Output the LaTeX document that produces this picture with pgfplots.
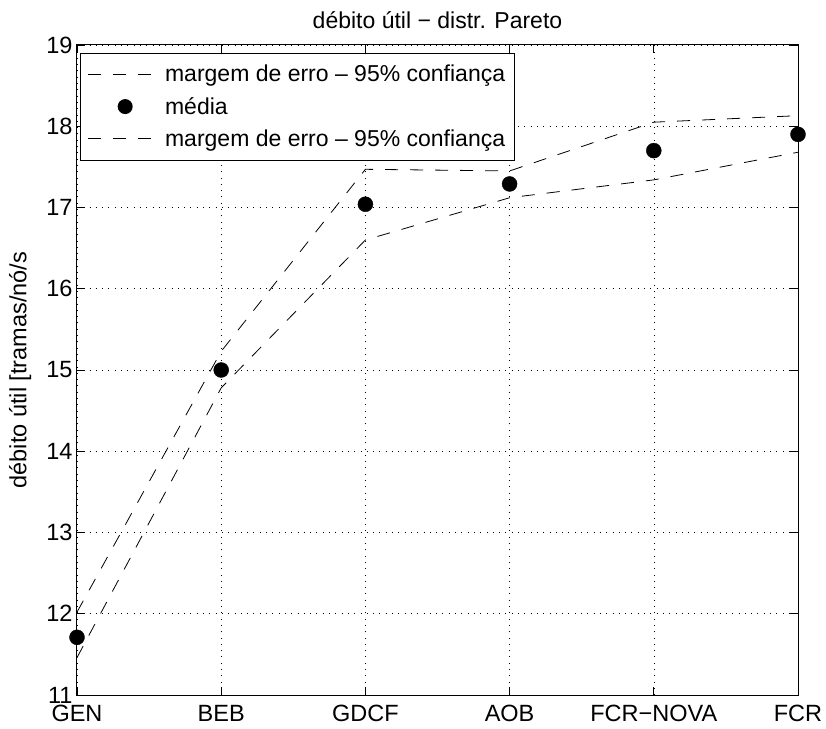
\documentclass[border=0pt]{standalone}
\usepackage{pgfplots}
\pgfplotsset{compat=1.18}
\usepackage{fontspec}
\setmainfont{Liberation Sans}
\newcommand{\fs}{\fontsize{23.5}{28}\selectfont}
\begin{document}
\begin{tikzpicture}
\begin{axis}[
  at={(0,0)}, anchor=south west,
  scale only axis, width=721pt, height=650pt,
  xmin=0, xmax=5, ymin=11, ymax=19,
  xtick={0,1,2,3,4,5},
  xticklabels={GEN,BEB,GDCF,AOB,FCR−NOVA,FCR},
  ytick={11,12,...,19},
  tick align=inside,
  major tick length=8pt,
  xtick pos=both, ytick pos=both,
  grid=major,
  major grid style={black, line width=0.6pt, dash pattern=on 0.8pt off 5.5pt},
  axis line style={line width=1pt},
  tick style={line width=0.8pt, black},
  /pgf/number format/assume math mode=true,
  tick label style={font=\fs},
  xticklabel style={yshift=-7pt},
  yticklabel style={xshift=-1pt},
  title={débito útil − distr. Pareto},
  title style={font=\fontsize{23}{27}\selectfont, at={(axis description cs:0.5,1)}, anchor=base, yshift=10pt},
  ylabel={débito útil [tramas/nó/s},
  ylabel style={font=\fontsize{23.5}{28}\selectfont, at={(axis description cs:-0.079,0.5)}, anchor=center},
  legend style={font=\fontsize{23}{27}\selectfont, at={(0.004,0.988)}, anchor=north west,
    draw=black, line width=0.8pt, row sep=10pt, inner xsep=7pt, inner ysep=10pt,
    cells={anchor=west}},
  legend cell align=left,
]
\addplot[black, line width=0.8pt, dash pattern=on 13pt off 12pt,
  legend image code/.code={\draw[black, line width=0.8pt, dash pattern=on 13pt off 12pt] (0pt,0pt) -- (75pt,0pt);}]
  coordinates {(0,12.02) (1,15.23) (2,17.47) (3,17.45) (4,18.05) (5,18.13)};
\addlegendentry{margem de erro – 95\% confiança}
\addplot[only marks, mark=*, mark size=7.5pt, black, mark options={fill=black},
  legend image code/.code={\fill[black, draw=none] (37.5pt,0pt) circle (7.5pt); \path[draw=none, fill=none] (0pt,0pt) -- (75pt,0pt);}]
  coordinates {(0,11.71) (1,15.00) (2,17.04) (3,17.29) (4,17.70) (5,17.90)};
\addlegendentry{média}
\addplot[black, line width=0.8pt, dash pattern=on 13pt off 12pt,
  legend image code/.code={\draw[black, line width=0.8pt, dash pattern=on 13pt off 12pt] (0pt,0pt) -- (75pt,0pt);}]
  coordinates {(0,11.46) (1,14.78) (2,16.60) (3,17.12) (4,17.34) (5,17.68)};
\addlegendentry{margem de erro – 95\% confiança}
\end{axis}
\pgfresetboundingbox
\path (-77pt,-33pt) rectangle (749pt,695pt);
\end{tikzpicture}
\end{document}
